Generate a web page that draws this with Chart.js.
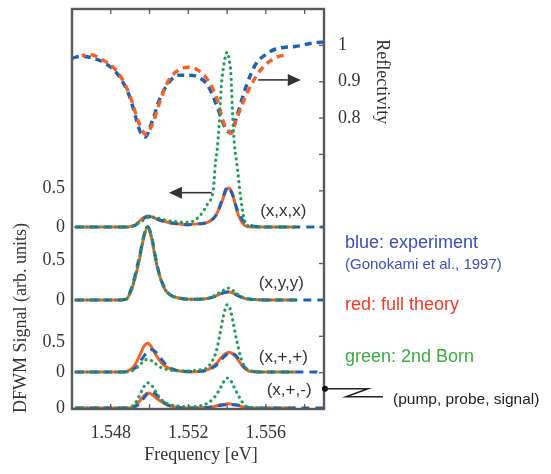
<!DOCTYPE html>
<html><head><meta charset="utf-8">
<script src="https://cdn.jsdelivr.net/npm/chart.js@4.4.1/dist/chart.umd.min.js"></script>
<style>html,body{margin:0;padding:0;background:#fff;}canvas{display:block;}</style>
</head><body>
<canvas id="c" width="551" height="474"></canvas>
<script>
// ---------- DATA ----------
// photon energy grid for the DFWM spectra (eV)
const energyDFWM = [1.5462,1.5470,1.5480,1.5485,1.5488,1.5491,1.5493,1.5495,1.5497,1.5499,1.5501,1.5503,1.5505,1.5508,1.5511,1.5515,1.5520,1.5525,1.5530,1.5533,1.5534,1.5535,1.5536,1.5537,1.5538,1.5539,1.5540,1.5541,1.5542,1.5543,1.5544,1.5545,1.5547,1.5549,1.5552,1.5560,1.5575,1.5590];
// (x,x,x)
const xxxTheory = [0,0,0,0,0,0.01,0.03,0.08,0.12,0.14,0.13,0.11,0.09,0.07,0.05,0.04,0.03,0.04,0.06,0.11,0.14,0.19,0.24,0.30,0.37,0.44,0.49,0.50,0.47,0.41,0.31,0.21,0.09,0.02,0,0,0,null];
const xxxExp    = [0,0,0,0,0,0.01,0.03,0.07,0.11,0.13,0.13,0.11,0.09,0.07,0.05,0.04,0.03,0.04,0.06,0.11,0.14,0.19,0.25,0.32,0.39,0.46,0.51,0.50,0.46,0.40,0.32,0.24,0.13,0.06,0.02,0,0,0];
const xxxBorn   = [0,0,0,0,0,0.01,0.03,0.06,0.09,0.12,0.13,0.12,0.11,0.09,0.075,0.065,0.06,0.12,0.30,0.50,0.82,1.02,1.35,1.80,2.02,2.17,2.24,2.16,1.95,1.35,1.00,0.82,0.38,0.08,0.01,0,0,null];
// (x,y,y)
const xyyTheory = [0,0,0,0,0.01,0.15,0.32,0.53,0.78,0.91,0.78,0.52,0.32,0.13,0.06,0.025,0.01,0.01,0.02,0.04,0.05,0.06,0.07,0.08,0.09,0.095,0.10,0.10,0.095,0.085,0.075,0.06,0.04,0.02,0.01,0,0,null];
const xyyExp    = [0,0,0,0,0.02,0.17,0.36,0.57,0.80,0.92,0.80,0.55,0.33,0.14,0.06,0.025,0.01,0.01,0.02,0.04,0.05,0.06,0.07,0.08,0.09,0.095,0.10,0.10,0.095,0.085,0.075,0.06,0.04,0.02,0.01,0,0,0];
const xyyBorn   = [0,0,0,0,0.01,0.15,0.33,0.55,0.79,0.92,0.79,0.53,0.32,0.13,0.06,0.025,0.01,0.01,0.02,0.05,0.06,0.08,0.09,0.11,0.12,0.14,0.15,0.15,0.14,0.12,0.10,0.08,0.05,0.02,0.01,0,0,null];
// (x,+,+)
const xppTheory = [0,0,0,0,0.01,0.06,0.15,0.28,0.42,0.48,0.42,0.30,0.20,0.10,0.05,0.02,0,0.01,0.04,0.10,0.13,0.16,0.20,0.24,0.27,0.30,0.32,0.33,0.32,0.30,0.27,0.23,0.14,0.06,0.01,0,0,null];
const xppExp    = [0,0,0,0,0,0.03,0.08,0.16,0.26,0.34,0.37,0.34,0.26,0.14,0.06,0.02,0.01,0.01,0.03,0.08,0.10,0.13,0.16,0.20,0.24,0.27,0.30,0.32,0.32,0.31,0.29,0.26,0.17,0.08,0.02,0,0,0];
const xppBorn   = [0,0,0,0,0,0.02,0.06,0.12,0.18,0.21,0.19,0.14,0.09,0.05,0.03,0.02,0.02,0.03,0.08,0.22,0.30,0.42,0.58,0.75,0.92,1.05,1.12,1.10,1.00,0.85,0.68,0.52,0.25,0.09,0.02,0,0,null];
// (x,+,-)
const xpmTheory = [0,0,0,0,0,0.01,0.05,0.12,0.20,0.25,0.23,0.18,0.13,0.07,0.03,0.01,0,0,0.01,0.02,0.03,0.04,0.05,0.055,0.06,0.065,0.07,0.07,0.068,0.06,0.055,0.05,0.03,0.015,0,0,0,null];
const xpmExp    = [0,0,0,0,0,0,0.03,0.08,0.16,0.24,0.27,0.24,0.17,0.08,0.03,0.01,0,0,0.01,0.02,0.03,0.035,0.04,0.045,0.05,0.055,0.06,0.06,0.06,0.055,0.05,0.05,0.03,0.01,0,0,0,0];
const xpmBorn   = [0,0,0,0,0,0.03,0.10,0.22,0.35,0.42,0.38,0.28,0.18,0.09,0.05,0.03,0.02,0.03,0.08,0.16,0.20,0.25,0.30,0.36,0.42,0.47,0.50,0.49,0.45,0.39,0.32,0.26,0.14,0.05,0.01,0,0,null];

// reflectivity
const energyRefl  = [1.5460,1.5465,1.5470,1.5475,1.5480,1.5485,1.5490,1.5493,1.5495,1.5497,1.5498,1.5500,1.5502,1.5505,1.5510,1.5515,1.5520,1.5525,1.5530,1.5535,1.5538,1.5540,1.5542,1.5545,1.5550,1.5555,1.5560,1.5565,1.5570,1.5575,1.5580,1.5585,1.5590];
const reflExp     = [0.965,0.970,0.966,0.957,0.940,0.910,0.855,0.800,0.765,0.750,0.748,0.772,0.800,0.850,0.898,0.918,0.918,0.913,0.890,0.830,0.785,0.765,0.760,0.805,0.890,0.950,0.975,0.990,0.995,0.997,1.002,1.007,1.009];
const reflTheory  = [null,0.972,0.974,0.962,0.946,0.915,0.860,0.810,0.780,0.760,0.755,0.767,0.790,0.840,0.905,0.932,0.940,0.932,0.905,0.850,0.790,0.772,0.758,0.800,0.865,0.915,0.948,0.966,0.974,null,null,null,null];

// ticks
const xTickValues  = [1.548,1.550,1.552,1.554,1.556,1.558];
const xTickLabels  = [1.548,1.552,1.556];
const reflTickValues = [0.1,0.2,0.3,0.4,0.5,0.6,0.7,0.8,0.9,1.0];
const reflTickLabels = [1.0,0.9,0.8];
const dfwmTickPanels = [3,2,2,1,1,0,0];          // panel index (0 = top)
const dfwmTickValues = [0,0,0.5,0,0.5,0,0.5];
const dfwmTickLabels = ['0','0','0.5','0','0.5','0','0.5'];
const panelNames = ['(x,x,x)','(x,y,y)','(x,+,+)','(x,+,-)'];

// ---------- LAYOUT (panel offsets on the left axis) ----------
const panels = [
  {off:4.55,  sc:1.95, th:xxxTheory, ex:xxxExp, bo:xxxBorn},
  {off:2.725, sc:2.0,  th:xyyTheory, ex:xyyExp, bo:xyyBorn},
  {off:0.925, sc:1.5,  th:xppTheory, ex:xppExp, bo:xppBorn},
  {off:0.025, sc:1.5,  th:xpmTheory, ex:xpmExp, bo:xpmBorn}
];
const BLUE='#1f62b0', ORANGE='#f0642a', GREEN='#25995a';
const SERIF='"Liberation Serif", "Times New Roman", serif';
const SANS='"Liberation Sans", Arial, sans-serif';
const TXT='#333333';

function pts(xs, ys, off, sc){
  const out=[];
  xs.forEach((x,i)=>{ const v=ys[i]; if(v!==null && v!==undefined) out.push({x:x, y:off+v*sc}); });
  return out;
}
const common = {pointRadius:0, fill:false, cubicInterpolationMode:'monotone', borderJoinStyle:'round'};
const datasets=[];
panels.forEach(p=>datasets.push(Object.assign({data:pts(energyDFWM,p.bo,p.off,p.sc), yAxisID:'y', borderColor:GREEN, borderWidth:3.2, borderDash:[0.1,5.6], borderCapStyle:'round'},common)));
panels.forEach(p=>datasets.push(Object.assign({data:pts(energyDFWM,p.ex,p.off,p.sc), yAxisID:'y', borderColor:BLUE, borderWidth:3, borderDash:[8,6], borderCapStyle:'butt'},common)));
panels.forEach(p=>datasets.push(Object.assign({data:pts(energyDFWM,p.th,p.off,p.sc), yAxisID:'y', borderColor:ORANGE, borderWidth:3, borderCapStyle:'round'},common)));
datasets.push(Object.assign({data:pts(energyRefl,reflTheory,0,1), yAxisID:'y2', borderColor:ORANGE, borderWidth:3.5, borderDash:[7,5], borderDashOffset:3},common));
datasets.push(Object.assign({data:pts(energyRefl,reflExp,0,1), yAxisID:'y2', borderColor:BLUE, borderWidth:3.5, borderDash:[7,5]},common));

function near(a,b){return Math.abs(a-b)<1e-9;}
function noPadV(s){s.paddingTop=0; s.paddingBottom=0;}

const decor = {
  id:'decor',
  afterDatasetsDraw(chart){
    const ctx=chart.ctx, a=chart.chartArea, xs=chart.scales.x, y2=chart.scales.y2;
    ctx.save();
    ctx.strokeStyle='#5a5a5a'; ctx.lineWidth=1.3;
    xTickValues.forEach(v=>{
      const px=xs.getPixelForValue(v);
      ctx.beginPath(); ctx.moveTo(px,a.top); ctx.lineTo(px,a.top+5); ctx.stroke();
      ctx.beginPath(); ctx.moveTo(px,a.bottom); ctx.lineTo(px,a.bottom-5); ctx.stroke();
    });
    reflTickValues.forEach(v=>{
      const py=y2.getPixelForValue(v);
      ctx.beginPath(); ctx.moveTo(a.right,py); ctx.lineTo(a.right-5,py); ctx.stroke();
    });
    ctx.strokeStyle='#5a5a5a'; ctx.lineWidth=2.4;
    ctx.strokeRect(a.left,a.top,a.right-a.left,a.bottom-a.top);
    ctx.restore();
  },
  afterDraw(chart){
    const ctx=chart.ctx, a=chart.chartArea, xs=chart.scales.x, ys=chart.scales.y, y2=chart.scales.y2;
    const py=(pi,v)=>ys.getPixelForValue(panels[pi].off+v*panels[pi].sc);
    ctx.save();
    // axis titles
    ctx.fillStyle=TXT; ctx.font='18px '+SERIF; ctx.textAlign='center'; ctx.textBaseline='middle';
    ctx.fillText('Frequency [eV]', (a.left+a.right)/2+3, a.bottom+46);
    ctx.save(); ctx.translate(21, py(2,0.9)); ctx.rotate(-Math.PI/2); ctx.fillText('DFWM Signal (arb. units)',0,0); ctx.restore();
    ctx.save(); ctx.translate(a.right+58, y2.getPixelForValue(0.9)); ctx.rotate(Math.PI/2); ctx.fillText('Reflectivity',0,0); ctx.restore();
    // panel labels
    ctx.font='17px '+SANS; ctx.fillStyle=TXT;
    const lab=[[1.5569,0.2],[1.5568,0.21],[1.5569,0.25],[1.5572,0.3]];
    panelNames.forEach((n,i)=>ctx.fillText(n, xs.getPixelForValue(lab[i][0]), py(i,lab[i][1])));
    // arrows
    function arrow(x1,y,x2){
      const dir=Math.sign(x2-x1), hl=13, hw=6;
      ctx.strokeStyle='#333'; ctx.fillStyle='#333'; ctx.lineWidth=1.6;
      ctx.beginPath(); ctx.moveTo(x1,y); ctx.lineTo(x2-dir*hl,y); ctx.stroke();
      ctx.beginPath(); ctx.moveTo(x2,y); ctx.lineTo(x2-dir*hl,y-hw); ctx.lineTo(x2-dir*hl,y+hw); ctx.closePath(); ctx.fill();
    }
    arrow(xs.getPixelForValue(1.5556), y2.getPixelForValue(0.905), xs.getPixelForValue(1.5578));
    arrow(xs.getPixelForValue(1.5532), py(0,0.44), xs.getPixelForValue(1.5510));
    // pump/probe/signal pointer
    const pY=py(3,0.32), rx=a.right+1;
    ctx.fillStyle='#111'; ctx.beginPath(); ctx.arc(rx,pY,3,0,Math.PI*2); ctx.fill();
    ctx.strokeStyle='#222'; ctx.lineWidth=1.5;
    ctx.beginPath(); ctx.moveTo(rx,pY); ctx.lineTo(rx+43,pY); ctx.lineTo(rx+21,pY+8); ctx.lineTo(rx+58,pY+8); ctx.stroke();
    ctx.textAlign='left'; ctx.font='15.5px '+SANS; ctx.fillStyle='#222';
    ctx.fillText('(pump, probe, signal)', rx+68, pY+11);
    // colour key
    const lx=a.right+21;
    ctx.font='18px '+SANS; ctx.fillStyle='#3b4fae'; ctx.fillText('blue: experiment', lx, 243);
    ctx.font='15px '+SANS; ctx.fillText('(Gonokami et al., 1997)', lx, 265);
    ctx.font='18px '+SANS; ctx.fillStyle='#ef3a2c'; ctx.fillText('red: full theory', lx, 305);
    ctx.fillStyle='#3fa844'; ctx.fillText('green: 2nd Born', lx, 357);
    ctx.restore();
  }
};

new Chart(document.getElementById('c'), {
  type:'line',
  data:{datasets},
  options:{
    responsive:false, animation:false, devicePixelRatio:1,
    layout:{padding:{top:9,left:0,right:0,bottom:0}},
    plugins:{legend:{display:false}, tooltip:{enabled:false}},
    scales:{
      x:{type:'linear', position:'bottom', min:1.546, max:1.559,
        afterBuildTicks:s=>{s.ticks=xTickValues.map(v=>({value:v}));},
        afterFit:s=>{s.height=65; s.paddingLeft=0; s.paddingRight=0;},
        grid:{display:false, drawTicks:false}, border:{display:false},
        ticks:{autoSkip:false, maxRotation:0, padding:13, color:TXT, font:{family:SERIF,size:18},
          callback:(v)=>{const l=xTickLabels.find(t=>near(t,v)); return l!==undefined? l.toFixed(3):'';}}},
      y:{type:'linear', position:'left', min:0, max:10,
        afterBuildTicks:s=>{s.ticks=dfwmTickPanels.map((p,i)=>({value:panels[p].off+dfwmTickValues[i]*panels[p].sc}));},
        afterFit:s=>{s.width=72; noPadV(s);},
        grid:{display:false, drawTicks:false}, border:{display:false},
        ticks:{autoSkip:false, padding:7, color:TXT, font:{family:SERIF,size:18},
          callback:(v,i)=>dfwmTickLabels[i]}},
      y2:{type:'linear', position:'right', min:0, max:1.1,
        afterBuildTicks:s=>{s.ticks=reflTickValues.map(v=>({value:v}));},
        afterFit:s=>{s.width=227; noPadV(s);},
        grid:{display:false, drawTicks:false}, border:{display:false},
        ticks:{autoSkip:false, padding:14, color:TXT, font:{family:SERIF,size:18},
          callback:(v)=>{const l=reflTickLabels.find(t=>near(t,v)); return l===undefined?'':(near(l,1)?'1':String(l));}}}
    }
  },
  plugins:[decor]
});
</script>
</body></html>
